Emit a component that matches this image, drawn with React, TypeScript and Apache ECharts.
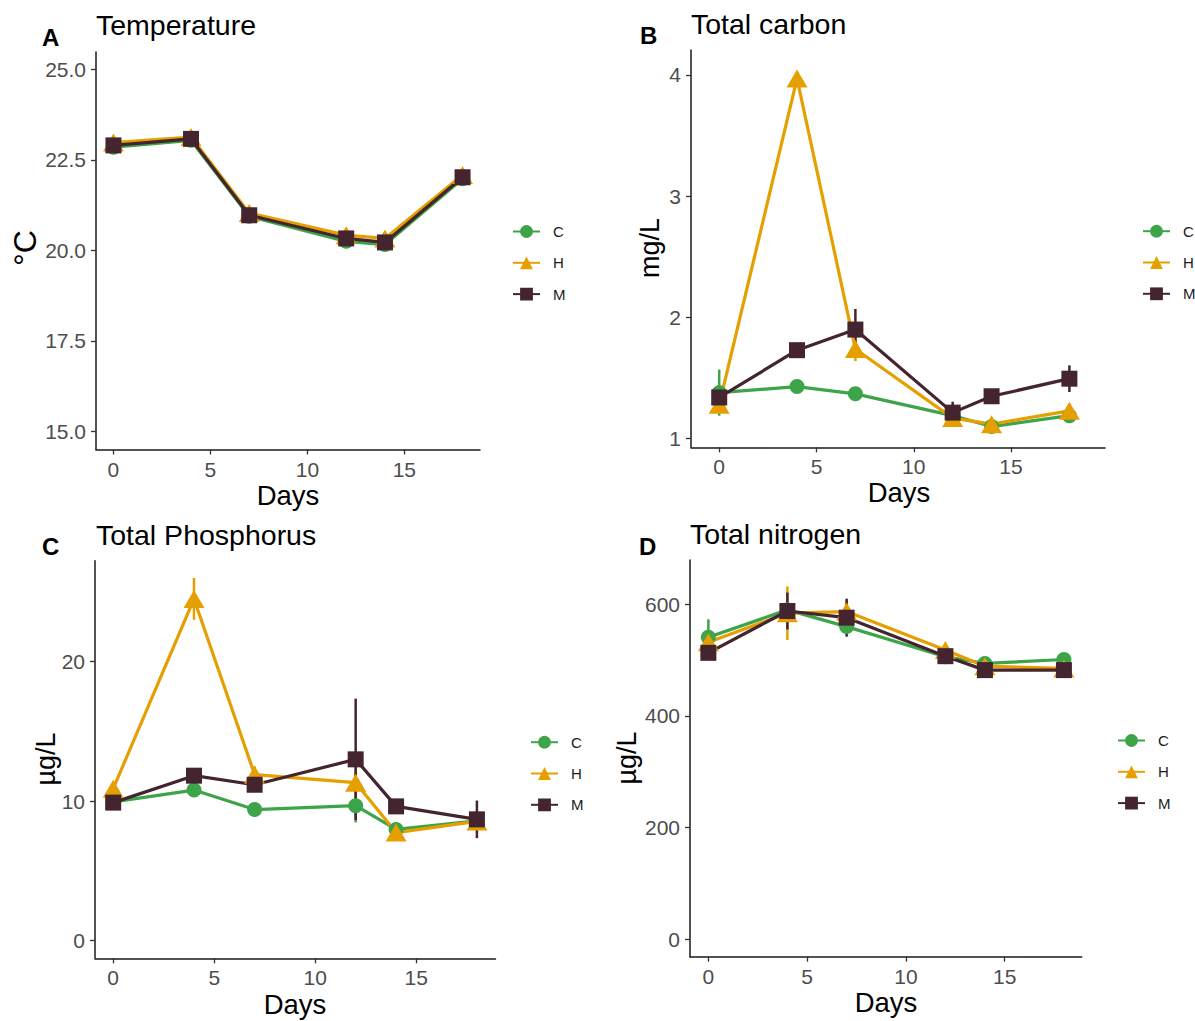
import React, { useEffect, useRef } from "react";
import * as echarts from "echarts";

// ---------- data ----------
const days = [0, 4, 7, 12, 14, 18];
const groups = ["C", "H", "M"];
const groupColors = ["#3DA449", "#E69F00", "#43242F"];

// Temperature (°C)
const tempC = [22.85, 23.04, 20.94, 20.25, 20.16, 21.98];
const tempH = [22.98, 23.13, 21.03, 20.42, 20.33, 22.08];
const tempM = [22.9, 23.08, 20.97, 20.33, 20.22, 22.02];
const tempSeC = [0.05, 0.05, 0.05, 0.05, 0.05, 0.05];
const tempSeH = [0.05, 0.05, 0.05, 0.05, 0.05, 0.05];
const tempSeM = [0.05, 0.05, 0.05, 0.05, 0.05, 0.05];

// Total carbon (mg/L)
const carbC = [1.38, 1.43, 1.37, 1.19, 1.1, 1.19];
const carbH = [1.28, 3.97, 1.74, 1.17, 1.12, 1.23];
const carbM = [1.34, 1.73, 1.9, 1.215, 1.35, 1.495];
const carbSeC = [0.19, 0.03, 0.03, 0.02, 0.02, 0.02];
const carbSeH = [0.05, 0.06, 0.1, 0.03, 0.03, 0.03];
const carbSeM = [0.07, 0.03, 0.17, 0.09, 0.03, 0.11];

// Total phosphorus (µg/L)
const phosC = [9.95, 10.8, 9.4, 9.68, 7.98, 8.6];
const phosH = [10.9, 24.5, 11.9, 11.33, 7.75, 8.55];
const phosM = [9.9, 11.83, 11.18, 13.0, 9.63, 8.7];
const phosSeC = [0.2, 0.4, 0.2, 1.2, 0.2, 0.2];
const phosSeH = [0.3, 1.5, 0.6, 1.4, 0.3, 0.2];
const phosSeM = [0.2, 0.5, 0.5, 4.35, 0.2, 1.35];

// Total nitrogen (µg/L)
const nitC = [541, 590, 560, 506, 494, 501];
const nitH = [532, 584, 587, 518, 489, 485];
const nitM = [513, 588, 576, 507, 482, 482];
const nitSeC = [32, 10, 12, 12, 8, 10];
const nitSeH = [15, 48, 20, 10, 8, 8];
const nitSeM = [8, 33, 34, 8, 6, 6];

const xTicks = [0, 5, 10, 15];
const tempTicks = [15, 17.5, 20, 22.5, 25];
const carbTicks = [1, 2, 3, 4];
const phosTicks = [0, 10, 20];
const nitTicks = [0, 200, 400, 600];

const titles = ["Temperature", "Total carbon", "Total Phosphorus", "Total nitrogen"];
const letters = ["A", "B", "C", "D"];
const yNames = ["°C", "mg/L", "µg/L", "µg/L"];
const xName = "Days";

// ---------- layout ----------
const panels = [
  {
    values: [tempC, tempH, tempM], se: [tempSeC, tempSeH, tempSeM], ticks: tempTicks, dec: 1,
    grid: { left: 96, top: 52, width: 384, height: 397.5 }, xMin: -0.9, xMax: 18.9, yMin: 14.5, yMax: 25.48,
    legend: { left: 512, top: 224 },
    title: [96, 25], letter: [42, 37.5], xName: [288, 495], yName: [25, 248], yNameSize: 32,
  },
  {
    values: [carbC, carbH, carbM], se: [carbSeC, carbSeH, carbSeM], ticks: carbTicks, dec: 0,
    grid: { left: 691, top: 50, width: 414, height: 397.3 }, xMin: -1.45, xMax: 19.83, yMin: 0.929, yMax: 4.206,
    legend: { left: 1142, top: 223.7 },
    title: [691, 24], letter: [640, 35.7], xName: [899, 492], yName: [650, 248], yNameSize: 27,
  },
  {
    values: [phosC, phosH, phosM], se: [phosSeC, phosSeH, phosSeM], ticks: phosTicks, dec: 0,
    grid: { left: 95, top: 560.7, width: 400.5, height: 397.6 }, xMin: -0.9, xMax: 18.92, yMin: -1.26, yMax: 27.24,
    legend: { left: 530, top: 734.7 },
    title: [96, 534.5], letter: [42, 546], xName: [295, 1004], yName: [46, 759], yNameSize: 27,
  },
  {
    values: [nitC, nitH, nitM], se: [nitSeC, nitSeH, nitSeM], ticks: nitTicks, dec: 0,
    grid: { left: 690, top: 560, width: 391.7, height: 396.7 }, xMin: -0.93, xMax: 18.9, yMin: -31.7, yMax: 679.4,
    legend: { left: 1117, top: 733 },
    title: [690, 534], letter: [639, 546], xName: [886, 1002.5], yName: [627, 758], yNameSize: 27,
  },
];

const symbols = ["circle", "triangle", "rect"];
const symbolSizes: any[] = [15, [21, 18], 16];
const FONT = "'Liberation Sans', Arial, Helvetica, sans-serif";

function buildOption() {
  const grids: any[] = [];
  const xAxes: any[] = [];
  const yAxes: any[] = [];
  const legends: any[] = [];
  const lineSeries: any[] = [];
  const pointSeries: any[] = [];
  const errSeries: any[] = [];
  const graphics: any[] = [];

  panels.forEach((p, i) => {
    grids.push({ ...p.grid, containLabel: false, outerBoundsMode: "none" });
    xAxes.push({
      type: "value", gridIndex: i, min: p.xMin, max: p.xMax,
      axisLine: { show: true, onZero: false, lineStyle: { color: "#1a1a1a", width: 1.5 } },
      axisTick: { show: true, length: 5, customValues: xTicks, lineStyle: { color: "#333", width: 1.3 } },
      axisLabel: { customValues: xTicks, margin: 9, fontSize: 21, color: "#4d4d4d", fontFamily: FONT },
      splitLine: { show: false },
    });
    yAxes.push({
      type: "value", gridIndex: i, min: p.yMin, max: p.yMax,
      axisLine: { show: true, onZero: false, lineStyle: { color: "#1a1a1a", width: 1.5 } },
      axisTick: { show: true, length: 5, customValues: p.ticks, lineStyle: { color: "#333", width: 1.3 } },
      axisLabel: {
        customValues: p.ticks, margin: 10, fontSize: 21, color: "#4d4d4d", fontFamily: FONT,
        formatter: (v: number) => v.toFixed(p.dec),
      },
      splitLine: { show: false },
    });
    legends.push({
      data: groups, orient: "vertical", left: p.legend.left, top: p.legend.top,
      itemWidth: 27, itemHeight: 16, itemGap: 16.3, padding: 0,
      textStyle: { fontSize: 15, color: "#1a1a1a", fontFamily: FONT, padding: [0, 0, 0, 8] },
      selectedMode: false,
    });
    groups.forEach((g, k) => {
      const vals = p.values[k];
      const se = p.se[k];
      lineSeries.push({
        name: g, type: "line", xAxisIndex: i, yAxisIndex: i,
        data: days.map((d, j) => [d, vals[j]]),
        symbol: symbols[k], symbolSize: symbolSizes[k], showSymbol: false,
        lineStyle: { color: groupColors[k], width: 3.2 }, itemStyle: { color: groupColors[k] },
        z: 3, silent: true,
      });
      pointSeries.push({
        name: g, type: "scatter", xAxisIndex: i, yAxisIndex: i,
        data: days.map((d, j) => [d, vals[j]]),
        symbol: symbols[k], symbolSize: symbolSizes[k],
        itemStyle: { color: groupColors[k], opacity: 1 }, z: 4, silent: true,
      });
      errSeries.push({
        type: "custom", xAxisIndex: i, yAxisIndex: i,
        data: days.map((d, j) => [d, vals[j] - se[j], vals[j] + se[j]]),
        encode: { x: 0, y: [1, 2] },
        z: 2, silent: true,
        renderItem: (params: any, api: any) => {
          const x = api.value(0);
          const a = api.coord([x, api.value(1)]);
          const b = api.coord([x, api.value(2)]);
          return {
            type: "line",
            shape: { x1: a[0], y1: a[1], x2: b[0], y2: b[1] },
            style: { stroke: groupColors[k], lineWidth: 2.5 },
          };
        },
      });
    });

    graphics.push({
      type: "text", x: p.title[0], y: p.title[1],
      style: { text: titles[i], font: `28.5px ${FONT}`, fill: "#000", align: "left", verticalAlign: "middle" },
    });
    graphics.push({
      type: "text", x: p.letter[0], y: p.letter[1],
      style: { text: letters[i], font: `bold 24px ${FONT}`, fill: "#000", align: "left", verticalAlign: "middle" },
    });
    graphics.push({
      type: "text", x: p.xName[0], y: p.xName[1],
      style: { text: xName, font: `27.5px ${FONT}`, fill: "#000", align: "center", verticalAlign: "middle" },
    });
    graphics.push({
      type: "text", x: p.yName[0], y: p.yName[1], rotation: Math.PI / 2,
      style: { text: yNames[i], font: `${p.yNameSize}px ${FONT}`, fill: "#000", align: "center", verticalAlign: "middle" },
    });
  });

  return {
    animation: false,
    backgroundColor: "#ffffff",
    grid: grids,
    xAxis: xAxes,
    yAxis: yAxes,
    legend: legends,
    tooltip: { show: false },
    series: [...lineSeries, ...pointSeries, ...errSeries],
    graphic: { elements: graphics },
  };
}

export default function App() {
  const ref = useRef<HTMLDivElement>(null);
  useEffect(() => {
    document.body.style.margin = "0";
    if (!ref.current) return;
    const chart = echarts.init(ref.current, null, { renderer: "svg" });
    chart.setOption(buildOption());
    return () => chart.dispose();
  }, []);
  return <div ref={ref} style={{ width: 1195, height: 1021, background: "#fff" }} />;
}
